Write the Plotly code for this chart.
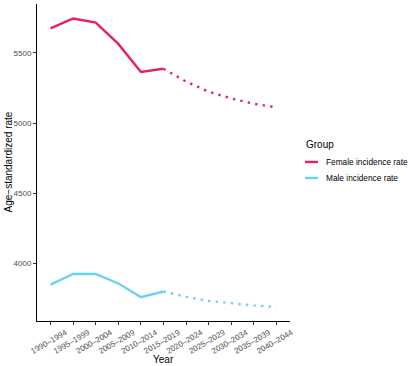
import plotly.graph_objects as go

periods = ["1990-1994", "1995-1999", "2000-2004", "2005-2009", "2010-2014", "2015-2019",
           "2020-2024", "2025-2029", "2030-2034", "2035-2039", "2040-2044"]
tick_labels = [p.replace("-", "\u2013") for p in periods]

female_obs = [5675, 5745, 5715, 5564, 5364, 5387]
female_pred = [5387, 5296, 5224, 5176, 5138, 5112]
male_obs = [3851, 3927, 3927, 3859, 3762, 3802]
male_pred = [3802, 3764, 3735, 3716, 3702, 3692]

obs_x = periods[:6]
pred_x = periods[5:]

female_color = "#E8215A"
male_color = "#6ED1F3"
legend_names = ["Female incidence rate", "Male incidence rate"]
legend_colors = [female_color, male_color]

W, H = 408, 366
L, R, T, B = 37, 118, 4, 45
pw, ph = W - L - R, H - T - B

def px_x(x):
    return (x - L) / pw

def px_y(y):
    return (H - B - y) / ph

fig = go.Figure()
fig.add_trace(go.Scatter(x=obs_x, y=female_obs, mode="lines", name=legend_names[0],
                         showlegend=False, line=dict(color=female_color, width=2.4)))
fig.add_trace(go.Scatter(x=pred_x, y=female_pred, mode="lines", showlegend=False,
                         line=dict(color=female_color, width=2.4, dash="2.4px,5.2px")))
fig.add_trace(go.Scatter(x=obs_x, y=male_obs, mode="lines", name=legend_names[1],
                         showlegend=False, line=dict(color=male_color, width=2.4)))
fig.add_trace(go.Scatter(x=pred_x, y=male_pred, mode="lines", showlegend=False,
                         line=dict(color=male_color, width=2.4, dash="2.4px,5.2px")))

annotations = [
    dict(text="Year", x=0.5, xref="paper", y=px_y(359), yref="paper",
         showarrow=False, font=dict(size=10, color="black"), xanchor="center", yanchor="middle"),
    dict(text="Age\u2212standardized rate", x=px_x(8), xref="paper", y=0.5, yref="paper",
         showarrow=False, textangle=-90, font=dict(size=10, color="black"),
         xanchor="center", yanchor="middle"),
    dict(text="Group", x=px_x(304), xref="paper", y=px_y(144), yref="paper",
         showarrow=False, font=dict(size=10, color="black"), xanchor="left", yanchor="middle"),
]
shapes = []
for i, (name, col) in enumerate(zip(legend_names, legend_colors)):
    yy = 162 + i * 16
    shapes.append(dict(type="line", xref="paper", yref="paper",
                       x0=px_x(305), x1=px_x(318), y0=px_y(yy), y1=px_y(yy),
                       line=dict(color=col, width=2.4)))
    annotations.append(dict(text=name, x=px_x(324), xref="paper", y=px_y(yy), yref="paper",
                            showarrow=False, font=dict(size=8.3, color="black"),
                            xanchor="left", yanchor="middle"))

fig.update_layout(
    width=W, height=H,
    margin=dict(l=L, r=R, t=T, b=B, autoexpand=False),
    paper_bgcolor="white", plot_bgcolor="white",
    font=dict(family="Liberation Sans, Arial, sans-serif", color="black"),
    showlegend=False,
    annotations=annotations,
    shapes=shapes,
    xaxis=dict(
        type="category", categoryorder="array", categoryarray=periods,
        range=[-0.6, 10.6], automargin=False,
        tickmode="array", tickvals=periods, ticktext=tick_labels,
        tickangle=-30, tickfont=dict(size=8, color="#4D4D4D"),
        ticklabelshift=15, ticklabelstandoff=0,
        showline=True, linecolor="black", linewidth=1,
        ticks="outside", ticklen=3, tickcolor="#333333", tickwidth=1,
        showgrid=False, zeroline=False,
    ),
    yaxis=dict(
        range=[3592, 5848], automargin=False,
        tickvals=[4000, 4500, 5000, 5500],
        tickfont=dict(size=8, color="#4D4D4D"),
        showline=True, linecolor="black", linewidth=1,
        ticks="outside", ticklen=3, tickcolor="#333333", tickwidth=1,
        showgrid=False, zeroline=False,
    ),
)

fig.write_html(
    "out.html",
    config={"displayModeBar": False},
    post_script="document.body.style.margin='0';document.body.style.overflow='hidden';",
)
